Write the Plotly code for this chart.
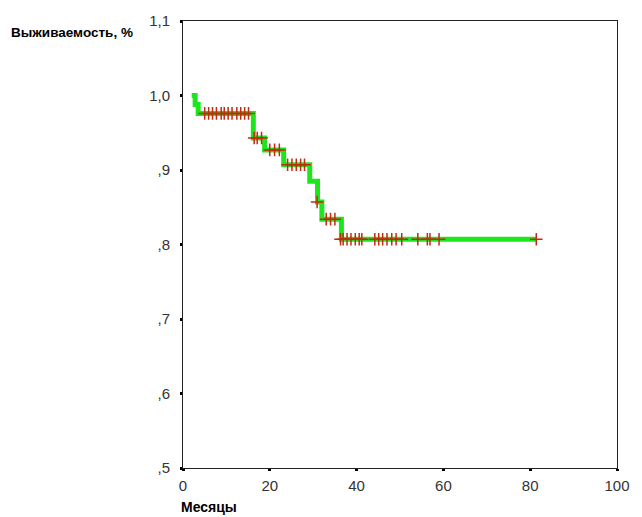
import plotly.graph_objects as go

# Kaplan-Meier step curve (event times and survival after each step)
step_times = [2.0, 2.8, 3.5, 16.2, 18.8, 23.2, 29.2, 31.0, 32.0, 36.5, 81.4]
step_surv = [1.0, 0.988, 0.976, 0.943, 0.927, 0.907, 0.885, 0.857, 0.834, 0.807, 0.807]

# Censored observations
censor_x = [5.0, 5.9, 6.8, 7.7, 8.8, 9.5, 10.4, 11.3, 12.4, 13.3, 14.2, 15.1,
            16.4, 17.1, 18.1,
            20.0, 21.1, 22.2,
            24.1, 25.1, 26.1, 27.1, 28.0,
            30.9,
            33.0, 34.0, 35.0,
            36.3, 36.9, 37.8, 38.7, 39.7, 40.6, 41.2, 44.2, 45.1, 46.0, 47.0, 48.1,
            49.1, 50.4, 54.1, 56.3, 56.9, 59.0, 81.4]
censor_y = [0.976] * 12 + [0.943] * 3 + [0.927] * 3 + [0.907] * 5 + [0.857] + \
           [0.834] * 3 + [0.807] * 19

x_ticks = [0, 20, 40, 60, 80, 100]
y_ticks = [0.5, 0.6, 0.7, 0.8, 0.9, 1.0, 1.1]
y_ticklabels = [",5", ",6", ",7", ",8", ",9", "1,0", "1,1"]

fig = go.Figure()
fig.add_trace(go.Scatter(
    x=step_times, y=step_surv, mode="lines", line_shape="hv",
    line=dict(color="#1ee61e", width=5), hoverinfo="skip", showlegend=False))
fig.add_trace(go.Scatter(
    x=censor_x, y=censor_y, mode="markers",
    marker=dict(symbol="cross-thin", size=9, line=dict(color="#c42a10", width=1.5)),
    showlegend=False))

axis_common = dict(showgrid=False, zeroline=False, showline=True, mirror=True,
                   linecolor="#222", linewidth=1, ticks="outside", ticklen=2,
                   tickwidth=3, tickcolor="#000",
                   tickfont=dict(family="Liberation Sans, Arial", size=15, color="#333"))

fig.update_xaxes(range=[0, 100], tickvals=x_ticks, ticklabelstandoff=2, **axis_common)
fig.update_yaxes(range=[0.5, 1.1], tickvals=y_ticks, ticktext=y_ticklabels,
                 ticklabelstandoff=7, **axis_common)

fig.update_layout(
    width=642, height=517,
    margin=dict(l=183, r=14, t=17, b=49),
    plot_bgcolor="white", paper_bgcolor="white",
    annotations=[
        dict(text="<b>Выживаемость, %</b>", xref="paper", yref="paper",
             x=-0.402, y=0.975, xanchor="left", yanchor="middle", showarrow=False,
             font=dict(family="Liberation Sans, Arial", size=13.5, color="#000")),
        dict(text="<b>Месяцы</b>", xref="paper", yref="paper",
             x=-0.01, y=-0.088, xanchor="left", yanchor="middle", showarrow=False,
             font=dict(family="Liberation Sans, Arial", size=14, color="#000")),
    ],
)

fig.write_html("out.html")
